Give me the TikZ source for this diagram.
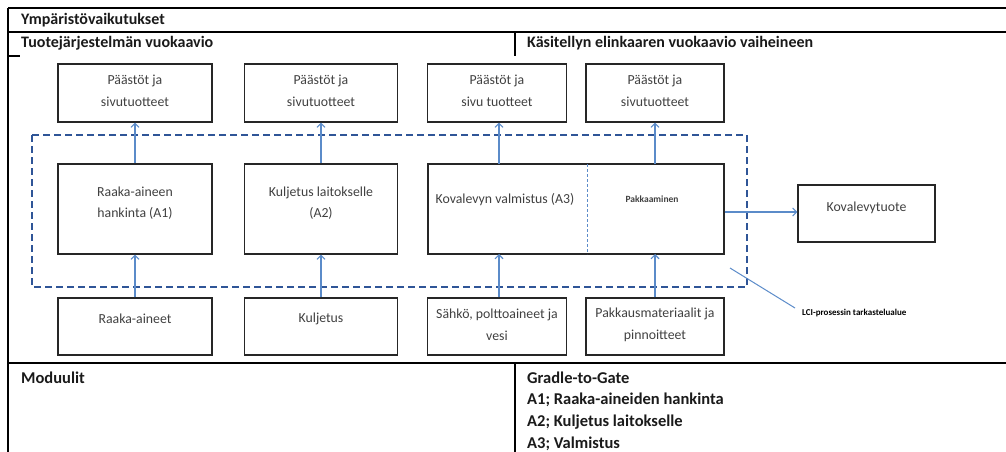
\documentclass[tikz,border=0pt]{standalone}
\usepackage{fontspec}
\setmainfont{Carlito}
\usetikzlibrary{arrows.meta}
\definecolor{txt}{HTML}{404040}
\definecolor{arr}{HTML}{5B8BC9}
\definecolor{dashc}{HTML}{2F5597}
\definecolor{hdr}{HTML}{1A1A1A}
\tikzset{
  box/.style={draw=black!85, line width=1.1pt, inner sep=0pt},
  lbl/.style={align=center, inner sep=0pt, text=txt, font=\fontsize{13.8}{21.5}\selectfont},
  hd/.style={anchor=west, inner sep=0pt, text=hdr, font=\fontsize{16}{20}\selectfont\bfseries},
  bt/.style={anchor=west, inner sep=0pt, text=hdr, font=\fontsize{16.5}{20}\selectfont\bfseries},
  flow/.style={draw=arr, line width=1.1pt, -{Straight Barb[length=4pt,width=8pt]}},
  rule/.style={draw=black, line width=1.3pt},
}
\begin{document}
\begin{tikzpicture}[x=1pt,y=-1pt]
\useasboundingbox (0,0) rectangle (1006,452);
% table frame
\draw[rule] (8,8) -- (1006,8);
\draw[rule] (8,32) -- (1006,32);
\draw[rule] (8,8) -- (8,452);
\draw[rule] (515,32) -- (515,56);
\draw[rule] (8,56) -- (20,56);
\draw[rule] (8,363) -- (1006,363);
\draw[rule] (515,363) -- (515,452);
% headers
\node[hd] (h1) at (21,20) {Ympäristövaikutukset};
\node[hd] (h2) at (21,43) {Tuotejärjestelmän vuokaavio};
\node[hd] (h3) at (527,43) {Käsitellyn elinkaaren vuokaavio vaiheineen};
\node[bt] (h4) at (21,378) {Moduulit};
\node[bt] (g0) at (527,378) {Gradle-to-Gate};
\node[bt] (g1) at (527,400) {A1; Raaka-aineiden hankinta};
\node[bt] (g2) at (527,422) {A2; Kuljetus laitokselle};
\node[bt] (g3) at (527,444) {A3; Valmistus};
% dashed system boundary
\draw[dashc, line width=2pt, dash pattern=on 7pt off 4pt] (32,135) rectangle (747,287);
% top boxes
\node[box, minimum width=154pt, minimum height=58pt] (P1) at (135,93) {};
\node[box, minimum width=153pt, minimum height=58pt] (P2) at (321,93) {};
\node[box, minimum width=139pt, minimum height=58pt] (P3) at (497,93) {};
\node[box, minimum width=138pt, minimum height=58pt] (P4) at (655,93) {};
\node[lbl] (tP1) at (135,91) {Päästöt ja\\sivutuotteet};
\node[lbl] (tP2) at (321,91) {Päästöt ja\\sivutuotteet};
\node[lbl] (tP3) at (497,91) {Päästöt ja\\sivu tuotteet};
\node[lbl] (tP4) at (655,91) {Päästöt ja\\sivutuotteet};
% middle boxes
\node[box, minimum width=154pt, minimum height=90pt] (M1) at (135,209) {};
\node[box, minimum width=153pt, minimum height=90pt] (M2) at (321,209) {};
\node[box, minimum width=296pt, minimum height=90pt] (M3) at (576,209) {};
\draw[draw=arr, line width=1pt, dash pattern=on 3pt off 2pt] (587,164) -- (587,254);
\node[lbl] (tM1) at (135,203) {Raaka-aineen\\hankinta (A1)};
\node[lbl] (tM2) at (321,203) {Kuljetus laitokselle\\(A2)};
\node[lbl] (tM3) at (505,200) {Kovalevyn valmistus (A3)};
\node[lbl, font=\fontsize{9.5}{11}\selectfont\bfseries] (tM4) at (652,199) {Pakkaaminen};
% bottom boxes
\node[box, minimum width=154pt, minimum height=57pt] (B1) at (135,326.5) {};
\node[box, minimum width=153pt, minimum height=57pt] (B2) at (321,326.5) {};
\node[box, minimum width=139pt, minimum height=57pt] (B3) at (497,326.5) {};
\node[box, minimum width=138pt, minimum height=57pt] (B4) at (655,326.5) {};
\node[lbl] (tB1) at (135,319) {Raaka-aineet};
\node[lbl] (tB2) at (321,319) {Kuljetus};
\node[lbl] (tB3) at (497,325) {Sähkö, polttoaineet ja\\vesi};
\node[lbl] (tB4) at (655,325) {Pakkausmateriaalit ja\\pinnoitteet};
% product
\node[box, minimum width=137pt, minimum height=57pt] (K) at (866.5,213.5) {};
\node[lbl] (tK) at (866.5,208) {Kovalevytuote};
% coordinates on combined box
\coordinate (m3bt) at (499,254);
\coordinate (m3bp) at (655,254);
\coordinate (m3tt) at (499,164);
\coordinate (m3tp) at (655,164);
% flows
\draw[flow] (M1.north) -- (P1.south);
\draw[flow] (M2.north) -- (P2.south);
\draw[flow] (m3tt) -- (P3.south -| m3tt);
\draw[flow] (m3tp) -- (P4.south);
\draw[flow] (B1.north) -- (M1.south);
\draw[flow] (B2.north) -- (M2.south);
\draw[flow] (B3.north -| m3bt) -- (m3bt);
\draw[flow] (B4.north) -- (m3bp);
\draw[flow] (M3.east |- 0,212) -- (K.west |- 0,212);
% LCI callout
\coordinate (c1) at (730,268);
\node[anchor=west, inner sep=0pt, text=black, font=\fontsize{9}{10}\selectfont\bfseries] (lci) at (802,313) {LCI-prosessin tarkastelualue};
\draw[draw=arr, line width=1pt] (c1) -- (795,308);
\end{tikzpicture}
\end{document}
